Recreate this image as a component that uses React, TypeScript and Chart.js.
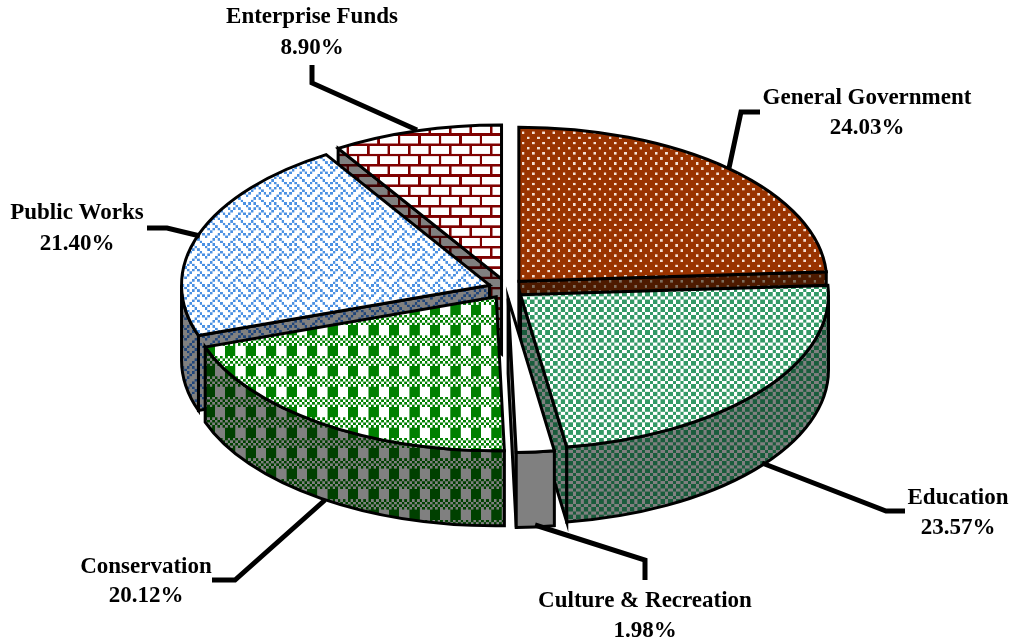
import React, { useEffect, useRef } from "react";
import { Chart, registerables } from "chart.js";

Chart.register(...registerables);

const categories = ["General Government", "Education", "Culture & Recreation", "Conservation", "Public Works", "Enterprise Funds"];
const values = [24.03, 23.57, 1.98, 20.12, 21.4, 8.9];

// slice look
const topForeground = ["#f4e0d4", "#339966", "#ffffff", "#008000", "#4a90e2", "#800000"];
const topBackground = ["#993300", "#ffffff", "#ffffff", "#ffffff", "#ffffff", "#ffffff"];
const sideForeground = ["#80705f", "#1a5c3c", "#808080", "#004000", "#20457a", "#400000"];
const sideBackground = ["#4d1a00", "#808080", "#808080", "#808080", "#808080", "#808080"];

const byteRows = (bytes: number[]) => bytes.map((b) => b.toString(2).padStart(8, "0"));
const bitmaps = [
  byteRows([0x88, 0x00, 0x22, 0x00, 0x88, 0x00, 0x22, 0x00]),
  ["11100", "11100", "11100", "00011", "00011"],
  byteRows([0x00]),
  byteRows([0xaa, 0x55, 0xaa, 0x55, 0x0f, 0x0f, 0x0f, 0x0f]),
  byteRows([0x88, 0x54, 0x22, 0x45, 0x88, 0x14, 0x22, 0x51]),
  byteRows([0x01, 0x01, 0x01, 0xff, 0x10, 0x10, 0x10, 0xff]),
];
const tileCells = [5, 3, 5, 5, 5, 5];
const phases = [[-0.44, 8.64], [0, 0], [0, 0], [10.08, 7.74], [0, 0], [-9.28, -7.56]];

// painter's order, back to front
const drawOrder = [5, 0, 4, 1, 3, 2];

// label layout: centre x, first line y, second line y
const labelX = [867, 958, 645, 146, 77, 312];
const labelY1 = [98, 498, 601, 567, 213, 17];
const labelY2 = [128, 528, 631, 596, 244, 48];
// leader polylines
const leaders = [
  [[760, 112], [741, 112], [729, 168]],
  [[905, 511], [886, 511], [762, 463]],
  [[645, 580], [645, 560], [535, 525]],
  [[212, 580], [235, 580], [325, 500]],
  [[147, 228], [167, 228], [200, 236]],
  [[312, 65], [312, 83], [417, 130]],
];

const SQUASH = 0.5;
const EXPLODE_X = 18;
const EXPLODE_Y = 20;
const DEPTH = 75;
const RADIUS = 308;
const LINE = 3;
const TILE_SCALE = 0.512;

function makeTile(rows: string[], cell: number, fg: string, bg: string) {
  const c = document.createElement("canvas");
  c.width = rows[0].length * cell;
  c.height = rows.length * cell;
  const g = c.getContext("2d")!;
  g.fillStyle = bg;
  g.fillRect(0, 0, c.width, c.height);
  g.fillStyle = fg;
  rows.forEach((row, r) => {
    for (let col = 0; col < row.length; col++) {
      if (row[col] === "1") g.fillRect(col * cell, r * cell, cell, cell);
    }
  });
  return g.createPattern(c, "repeat")!;
}

function tileMatrix(i: number) {
  return new DOMMatrix().translate(phases[i][0], phases[i][1]).scale(TILE_SCALE, TILE_SCALE);
}

export default function App() {
  const ref = useRef<HTMLCanvasElement>(null);
  useEffect(() => {
    const canvas = ref.current!;
    const topPatterns = bitmaps.map((b, i) => makeTile(b, tileCells[i], topForeground[i], topBackground[i]));
    const sidePatterns = bitmaps.map((b, i) => makeTile(b, tileCells[i], sideForeground[i], sideBackground[i]));
    sidePatterns.forEach((p, i) => p.setTransform(tileMatrix(i)));

    const pie3d = {
      id: "pie3d",
      beforeDatasetsDraw(chart: any) {
        const ctx: CanvasRenderingContext2D = chart.ctx;
        const arcs = chart.getDatasetMeta(0).data;
        for (const i of drawOrder) {
          const arc = arcs[i];
          const { x, y, startAngle: a0, endAngle: a1, outerRadius: R } = arc;
          const mid = (a0 + a1) / 2;
          const ox = EXPLODE_X * Math.cos(mid);
          const oy = EXPLODE_Y * Math.sin(mid);
          const cx = x + ox;
          const cy = y + oy * SQUASH;
          const Ry = R * SQUASH;
          ctx.save();
          ctx.lineWidth = LINE;
          ctx.strokeStyle = "#000";
          ctx.lineJoin = "miter";
          ctx.fillStyle = sidePatterns[i];
          const paint = () => {
            ctx.fill();
            ctx.stroke();
          };
          const wall = (a: number) => {
            const ex = cx + R * Math.cos(a);
            const ey = cy + Ry * Math.sin(a);
            ctx.beginPath();
            ctx.moveTo(cx, cy);
            ctx.lineTo(ex, ey);
            ctx.lineTo(ex, ey + DEPTH);
            ctx.lineTo(cx, cy + DEPTH);
            ctx.closePath();
            paint();
          };
          // radial walls facing the viewer
          if (Math.cos(a0) < -0.01) wall(a0);
          if (Math.cos(a1) > 0.01) wall(a1);
          // outer wall: the part of the rim on the near side
          const lo = Math.max(a0, 0);
          const hi = Math.min(a1, Math.PI);
          if (hi > lo) {
            ctx.beginPath();
            ctx.ellipse(cx, cy, R, Ry, 0, lo, hi);
            ctx.ellipse(cx, cy + DEPTH, R, Ry, 0, hi, lo, true);
            ctx.closePath();
            paint();
          }
          ctx.restore();

          // top face, drawn by the library's arc element
          ctx.save();
          ctx.translate(x, y);
          ctx.scale(1, SQUASH);
          ctx.translate(-x, -y);
          ctx.translate(ox, oy);
          const pat = arc.options.backgroundColor;
          if (pat && pat.setTransform) {
            pat.setTransform(ctx.getTransform().inverse().multiply(tileMatrix(i)));
          }
          arc.draw(ctx);
          ctx.restore();

          ctx.save();
          ctx.lineWidth = LINE;
          ctx.strokeStyle = "#000";
          ctx.beginPath();
          ctx.moveTo(cx, cy);
          ctx.ellipse(cx, cy, R, Ry, 0, a0, a1);
          ctx.closePath();
          ctx.stroke();
          ctx.restore();
        }
        return false;
      },
      afterDraw(chart: any) {
        const ctx: CanvasRenderingContext2D = chart.ctx;
        ctx.save();
        ctx.strokeStyle = "#000";
        ctx.lineWidth = 5;
        ctx.lineJoin = "miter";
        leaders.forEach((pts) => {
          ctx.beginPath();
          pts.forEach(([px, py], k) => (k ? ctx.lineTo(px, py) : ctx.moveTo(px, py)));
          ctx.stroke();
        });
        ctx.fillStyle = "#000";
        ctx.font = 'bold 23px "Liberation Serif"';
        ctx.textAlign = "center";
        ctx.textBaseline = "middle";
        categories.forEach((name, i) => {
          ctx.fillText(name, labelX[i], labelY1[i]);
          ctx.fillText(values[i].toFixed(2) + "%", labelX[i], labelY2[i]);
        });
        ctx.restore();
      },
    };

    const chart = new Chart(canvas, {
      type: "pie",
      data: {
        labels: categories,
        datasets: [
          {
            data: values,
            backgroundColor: topPatterns.map((p, i) => (i === 2 ? topBackground[2] : p)) as any,
            borderWidth: 0,
            radius: RADIUS,
          } as any,
        ],
      },
      options: {
        responsive: false,
        animation: false,
        layout: { padding: { bottom: 67 } },
        plugins: { legend: { display: false }, tooltip: { enabled: false } },
      },
      plugins: [pie3d as any],
    });
    return () => chart.destroy();
  }, []);
  return (
    <div style={{ position: "absolute", left: 0, top: 0, width: 1013, height: 644, background: "#fff" }}>
      <canvas ref={ref} width={1013} height={644} style={{ display: "block" }} />
    </div>
  );
}
